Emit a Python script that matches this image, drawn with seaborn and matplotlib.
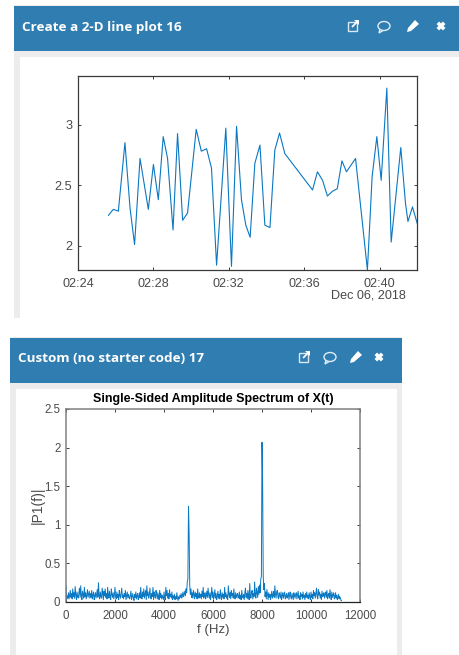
import pandas as pd
import matplotlib
matplotlib.use('Agg')
import matplotlib.pyplot as plt
import matplotlib.dates as mdates
from matplotlib.patches import Rectangle, Ellipse, Polygon
import seaborn as sns

sns.set_style('white')
plt.rcParams['font.family'] = ['Liberation Sans', 'DejaVu Sans']

# top chart, minutes after 02:24 and value
line_minutes = [1.61, 1.87, 2.14, 2.49, 2.76, 3.0, 3.29, 3.73, 4.0, 4.26, 4.52, 4.75, 5.04, 5.28, 5.55, 5.81,
                6.27, 6.54, 6.82, 7.08, 7.35, 7.84, 8.14, 8.41, 8.67, 8.9, 9.13, 9.38, 9.65, 9.91, 10.18,
                10.44, 10.69, 10.97, 12.44, 12.70, 12.97, 13.23, 13.50, 13.75, 14.0, 14.24, 14.72, 15.35,
                15.6, 15.85, 16.08, 16.38, 16.61, 17.12, 17.37, 17.5, 17.74, 17.99]
line_values = [2.25, 2.30, 2.285, 2.85, 2.31, 2.01, 2.72, 2.30, 2.67, 2.38, 2.90, 2.72, 2.13, 2.925, 2.21, 2.27,
               2.96, 2.78, 2.80, 2.64, 1.84, 2.97, 1.83, 2.985, 2.38, 2.17, 2.07, 2.68, 2.83, 2.17, 2.15,
               2.79, 2.93, 2.76, 2.46, 2.61, 2.54, 2.41, 2.45, 2.47, 2.70, 2.61, 2.72, 1.80,
               2.57, 2.90, 2.54, 3.30, 2.03, 2.81, 2.35, 2.20, 2.32, 2.185]
time_ticks = ['02:24', '02:28', '02:32', '02:36', '02:40']

# bottom chart, one row per 1000 Hz in 25 Hz bins
spec_amp = [0.21, 0.03, 0.08, 0.05, 0.12, 0.04, 0.09, 0.15, 0.06, 0.11, 0.04, 0.17, 0.07, 0.12, 0.05, 0.20, 0.09, 0.03, 0.13, 0.07, 0.05, 0.11, 0.18, 0.06, 0.21, 0.08, 0.03, 0.14, 0.10, 0.05, 0.19, 0.07, 0.12, 0.04, 0.09, 0.16, 0.06, 0.10, 0.14, 0.05,
            0.11, 0.06, 0.15, 0.04, 0.09, 0.13, 0.03, 0.08, 0.12, 0.05, 0.10, 0.16, 0.06, 0.25, 0.09, 0.04, 0.13, 0.07, 0.05, 0.18, 0.10, 0.03, 0.14, 0.08, 0.17, 0.06, 0.11, 0.04, 0.19, 0.09, 0.05, 0.14, 0.07, 0.03, 0.17, 0.10, 0.06, 0.12, 0.04, 0.09,
            0.19, 0.07, 0.04, 0.13, 0.06, 0.10, 0.03, 0.15, 0.08, 0.05, 0.12, 0.18, 0.06, 0.09, 0.04, 0.11, 0.07, 0.15, 0.03, 0.08, 0.13, 0.05, 0.10, 0.06, 0.04, 0.09, 0.14, 0.03, 0.07, 0.11, 0.05, 0.02, 0.10, 0.06, 0.13, 0.04, 0.08, 0.11, 0.03, 0.07,
            0.12, 0.05, 0.19, 0.09, 0.04, 0.13, 0.07, 0.17, 0.05, 0.10, 0.15, 0.03, 0.21, 0.08, 0.13, 0.05, 0.09, 0.18, 0.06, 0.04, 0.11, 0.07, 0.19, 0.03, 0.13, 0.08, 0.05, 0.15, 0.10, 0.04, 0.12, 0.07, 0.03, 0.15, 0.06, 0.11, 0.04, 0.09, 0.06, 0.03,
            0.13, 0.06, 0.03, 0.19, 0.08, 0.15, 0.05, 0.11, 0.04, 0.16, 0.07, 0.10, 0.05, 0.13, 0.03, 0.08, 0.05, 0.10, 0.03, 0.07, 0.04, 0.12, 0.05, 0.02, 0.07, 0.04, 0.09, 0.06, 0.11, 0.05, 0.08, 0.13, 0.07, 0.10, 0.14, 0.08, 0.17, 0.12, 0.26, 0.30,
            1.24, 0.90, 0.22, 0.10, 0.17, 0.06, 0.12, 0.05, 0.15, 0.09, 0.04, 0.13, 0.07, 0.11, 0.04, 0.17, 0.08, 0.05, 0.12, 0.06, 0.10, 0.04, 0.14, 0.07, 0.19, 0.05, 0.09, 0.12, 0.04, 0.08, 0.14, 0.06, 0.18, 0.09, 0.05, 0.12, 0.03, 0.10, 0.19, 0.06,
            0.13, 0.04, 0.08, 0.16, 0.05, 0.11, 0.03, 0.07, 0.14, 0.05, 0.10, 0.04, 0.16, 0.08, 0.03, 0.12, 0.06, 0.10, 0.04, 0.19, 0.07, 0.12, 0.05, 0.09, 0.03, 0.21, 0.10, 0.06, 0.13, 0.04, 0.15, 0.08, 0.11, 0.05, 0.17, 0.07, 0.04, 0.12, 0.06, 0.09,
            0.11, 0.05, 0.07, 0.13, 0.04, 0.09, 0.03, 0.15, 0.07, 0.05, 0.10, 0.03, 0.12, 0.18, 0.06, 0.11, 0.04, 0.15, 0.08, 0.03, 0.24, 0.07, 0.05, 0.13, 0.15, 0.04, 0.11, 0.07, 0.26, 0.09, 0.05, 0.18, 0.12, 0.06, 0.20, 0.10, 0.22, 0.12, 0.30, 0.33,
            2.07, 1.57, 0.34, 0.16, 0.24, 0.07, 0.13, 0.04, 0.16, 0.09, 0.03, 0.12, 0.06, 0.10, 0.03, 0.08, 0.14, 0.05, 0.09, 0.14, 0.06, 0.21, 0.10, 0.05, 0.13, 0.15, 0.07, 0.04, 0.12, 0.09, 0.05, 0.13, 0.03, 0.08, 0.12, 0.05, 0.09, 0.13, 0.04, 0.07,
            0.11, 0.05, 0.08, 0.12, 0.03, 0.09, 0.13, 0.06, 0.04, 0.11, 0.07, 0.03, 0.12, 0.08, 0.05, 0.10, 0.12, 0.04, 0.09, 0.14, 0.05, 0.08, 0.03, 0.12, 0.07, 0.10, 0.04, 0.13, 0.06, 0.09, 0.03, 0.11, 0.06, 0.13, 0.05, 0.09, 0.04, 0.12, 0.07, 0.03,
            0.13, 0.06, 0.10, 0.04, 0.15, 0.08, 0.12, 0.05, 0.11, 0.18, 0.07, 0.04, 0.16, 0.09, 0.13, 0.05, 0.10, 0.03, 0.14, 0.07, 0.08, 0.12, 0.05, 0.10, 0.13, 0.06, 0.15, 0.04, 0.09, 0.11, 0.05, 0.16, 0.08, 0.03, 0.13, 0.06, 0.09, 0.12, 0.04, 0.07,
            0.12, 0.05, 0.09, 0.03, 0.06, 0.10, 0.04, 0.07, 0.05, 0.02, 0.02]
spec_freq = [25 * i for i in range(len(spec_amp))]
freq_ticks = [0, 2000, 4000, 6000, 8000, 10000, 12000]
amp_ticks = [0, 0.5, 1, 1.5, 2, 2.5]
amp_labels = ['0', '0.5', '1', '1.5', '2', '2.5']

W, H = 459, 655
BLUE = '#2f7db1'
GRAY = '#ececec'
LINE = '#0a78c2'
TXT = '#4a4a4a'

fig = plt.figure(figsize=(W / 100, H / 100), dpi=100, facecolor='white')

# page background in pixel coordinates
bg = fig.add_axes([0, 0, 1, 1], zorder=0)
bg.set_xlim(0, W)
bg.set_ylim(H, 0)
bg.axis('off')


def panel(x0, x1, y0, y1, title, inner_right):
    bg.add_patch(Rectangle((x0, y0 - 1), x1 - x0, y1 - y0 + 1, fc=GRAY, ec='none'))
    bg.add_patch(Rectangle((x0, y0), x1 - x0, 45, fc=BLUE, ec='none'))
    bg.add_patch(Rectangle((x0 + 6, y0 + 51), inner_right - x0 - 6, y1 - y0 - 51, fc='white', ec='none'))
    bg.text(x0 + 8, y0 + 21, title, color='white', fontsize=9.7, fontweight='bold',
            family=['Open Sans', 'DejaVu Sans'], va='center', ha='left')


def icons(xs, y):
    # open in new window
    x = xs[0]
    bg.add_patch(Rectangle((x - 5, y - 4), 9, 9, fc='none', ec='#dce9f2', lw=1))
    bg.add_patch(Polygon([[x - 1, y + 1], [x + 5, y - 5]], closed=False, fc='none', ec='white', lw=1.3))
    bg.add_patch(Polygon([[x + 1, y - 6], [x + 6, y - 6], [x + 6, y - 1]], closed=True, fc='white', ec='none'))
    # comment
    x = xs[1]
    bg.add_patch(Ellipse((x, y), 12, 9, fc='none', ec='#e3edf5', lw=1))
    bg.add_patch(Polygon([[x - 4, y + 3], [x - 5, y + 7], [x - 1, y + 4.5]], closed=False, fc='none', ec='#e3edf5', lw=1))
    # pencil
    x = xs[2]
    bg.add_patch(Polygon([[x + 2, y - 6], [x + 6, y - 2], [x - 2, y + 5], [x - 6, y + 6], [x - 5, y + 2]],
                         closed=True, fc='white', ec='none'))
    # close
    x = xs[3]
    bg.plot([x - 3.2, x + 3.2], [y - 3.2, y + 3.2], color='white', lw=2.6, solid_capstyle='butt')
    bg.plot([x - 3.2, x + 3.2], [y + 3.2, y - 3.2], color='white', lw=2.6, solid_capstyle='butt')


panel(14, 459, 6, 318, 'Create a 2-D line plot 16', 459)
icons([353, 384, 413, 441], 26)
panel(10, 402, 338, 655, 'Custom (no starter code) 17', 397)
icons([304, 330, 356, 379], 357)


def px_axes(x0, x1, y0, y1):
    ax = fig.add_axes([x0 / W, 1 - y1 / H, (x1 - x0) / W, (y1 - y0) / H], zorder=2)
    ax.patch.set_facecolor('white')
    for s in ax.spines.values():
        s.set_linewidth(0.9)
        s.set_color('#3a3a3a')
        s.set_visible(True)
    ax.tick_params(direction='in', length=2.5, width=0.7, color='#3a3a3a', labelcolor=TXT,
                   labelsize=9.1, top=True, right=True, bottom=True, left=True, pad=4)
    ax.tick_params(axis='x', pad=6)
    return ax


# top line plot
start = pd.Timestamp('2018-12-06 02:24:00')
df_line = pd.DataFrame({'time': start + pd.to_timedelta(line_minutes, unit='m'), 'value': line_values})
ax1 = px_axes(78, 417, 76, 270)
sns.lineplot(data=df_line, x='time', y='value', ax=ax1, color=LINE, lw=0.8, estimator=None, sort=False)
ax1.set_xlim(start, start + pd.Timedelta(minutes=17.98))
ax1.set_ylim(1.8, 3.4)
ax1.set_xticks([pd.Timestamp(f'2018-12-06 {t}') for t in time_ticks])
ax1.xaxis.set_major_formatter(mdates.DateFormatter('%H:%M'))
ax1.set_yticks([2, 2.5, 3])
ax1.set_yticklabels(['2', '2.5', '3'])
ax1.set_xlabel('')
ax1.set_ylabel('')
bg.text(368, 296, 'Dec 06, 2018', color=TXT, fontsize=9.1, ha='center', va='center')

# bottom spectrum
df_spec = pd.DataFrame({'f': spec_freq, 'amp': spec_amp})
ax2 = px_axes(66, 360, 409, 602)
sns.lineplot(data=df_spec, x='f', y='amp', ax=ax2, color=LINE, lw=0.7, estimator=None, sort=False)
ax2.set_xlim(0, 12000)
ax2.set_ylim(0, 2.5)
ax2.set_xticks(freq_ticks)
ax2.set_yticks(amp_ticks)
ax2.set_yticklabels(amp_labels)
ax2.tick_params(labelsize=8.3)
for side in ['top', 'right', 'left']:
    ax2.spines[side].set_color('#808080')
    ax2.spines[side].set_linewidth(1.1)
ax2.spines['bottom'].set_color('#222222')
ax2.set_xlabel('f (Hz)', fontsize=9.5, color=TXT, labelpad=1)
ax2.set_ylabel('|P1(f)|', fontsize=10, color=TXT, labelpad=0)
ax2.set_title('Single-Sided Amplitude Spectrum of X(t)', fontsize=9, fontweight='bold', color='black', pad=5)

fig.savefig('out.png', dpi=100)
